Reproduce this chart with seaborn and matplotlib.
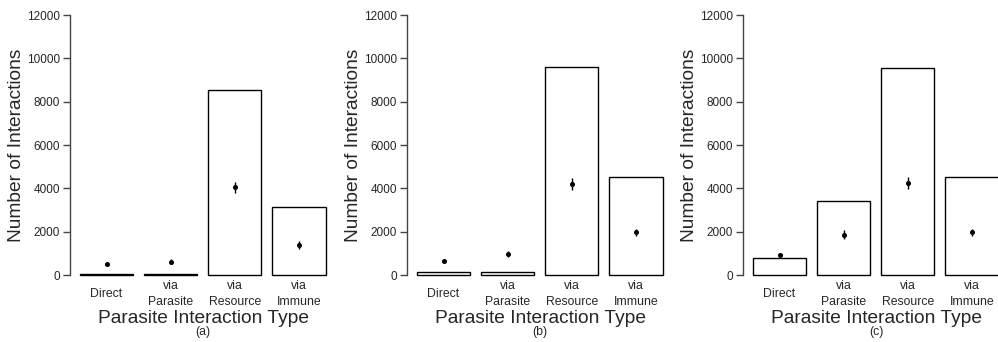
import numpy as np
import pandas as pd
import matplotlib
matplotlib.use("Agg")
import matplotlib.pyplot as plt
import seaborn as sns

categories = ["Direct", "via\nParasite", "via\nResource", "via\nImmune"]
panel_labels = ["(a)", "(b)", "(c)"]

# bar heights per panel
bars_a = [30, 50, 8560, 3160]
bars_b = [150, 150, 9610, 4510]
bars_c = [790, 3400, 9570, 4510]

# point estimates and error half-widths per panel
means_a = [505, 610, 4050, 1380]
errs_a = [40, 120, 260, 180]
means_b = [660, 970, 4200, 1970]
errs_b = [40, 140, 260, 160]
means_c = [910, 1860, 4250, 1970]
errs_c = [40, 220, 260, 160]

yticks = [0, 2000, 4000, 6000, 8000, 10000, 12000]

sns.set_style("white")
plt.rcParams["font.family"] = ["Liberation Sans", "DejaVu Sans"]

W, H = 998, 342
fig = plt.figure(figsize=(W / 100, H / 100), dpi=100)

lefts = [70, 407, 743]
panels = [(bars_a, means_a, errs_a), (bars_b, means_b, errs_b), (bars_c, means_c, errs_c)]

for left, (bars, means, errs), plab in zip(lefts, panels, panel_labels):
    ax = fig.add_axes([left / W, 67 / H, 261 / W, 260 / H])
    df = pd.DataFrame({"cat": categories, "val": bars})
    sns.barplot(data=df, x="cat", y="val", order=categories, color="white",
                edgecolor="black", linewidth=1.0, width=0.83, ax=ax, saturation=1)
    for p in ax.patches:
        p.set_clip_on(False)
    ax.errorbar(np.arange(len(categories)), means, yerr=errs, fmt="o", color="black",
                markersize=2.6, elinewidth=1.0, capsize=0, zorder=5)
    ax.set_xlim(-0.57, 3.5)
    ax.set_ylim(0, 12000)
    ax.set_yticks(yticks)
    ax.set_yticklabels([str(t) for t in yticks])
    sns.despine(ax=ax, top=True, right=True, bottom=True, left=False)
    ax.spines["left"].set_color("#444444")
    ax.spines["left"].set_linewidth(1.0)
    ax.tick_params(axis="y", direction="out", length=5, width=1.0, color="#444444",
                   labelsize=8.5, pad=2, left=True)
    ax.tick_params(axis="x", length=0, labelsize=8.8, pad=13.5)
    for lab in ax.get_xticklabels():
        lab.set_va("center")
        lab.set_linespacing(1.45)
    ax.set_ylabel("Number of Interactions", fontsize=13.8)
    ax.yaxis.set_label_coords(-53 / 261, 0.5)
    ax.yaxis.label.set_va("center")
    ax.set_xlabel("Parasite Interaction Type", fontsize=13.8)
    ax.xaxis.set_label_coords(133.5 / 261, -(323.3 - 275) / 260)
    ax.xaxis.label.set_va("baseline")
    ax.text(133 / 261, -(334.5 - 275) / 260, plab, transform=ax.transAxes, ha="center",
            va="baseline", fontsize=8.8)

fig.savefig("out.png", dpi=100)
